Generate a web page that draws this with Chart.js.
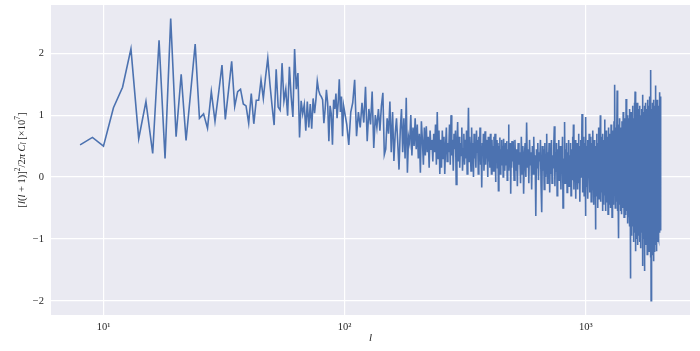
<!DOCTYPE html>
<html>
<head>
<meta charset="utf-8">
<script src="https://cdn.jsdelivr.net/npm/chart.js@4/dist/chart.umd.min.js"></script>
<style>
  html, body { margin: 0; padding: 0; background: #fff; }
  canvas { display: block; }
</style>
</head>
<body>
<canvas id="chart" width="700" height="351"></canvas>
<script>
// power spectrum
// l = 8..99, every multipole
const lowStart = 8;
const lowVals = [
  0.52, 0.64, 0.50, 1.12, 1.45, 2.07, 0.62, 1.22, 0.38, 2.21,
  0.30, 2.56, 0.65, 1.66, 0.59, 1.38, 2.15, 0.95, 1.02, 0.79,
  1.38, 0.90, 1.35, 1.81, 0.93, 1.40, 1.87, 1.14, 1.38, 1.42,
  1.18, 1.15, 0.87, 1.35, 0.86, 1.24, 1.24, 1.57, 1.27, 1.62,
  1.92, 1.50, 1.15, 0.84, 1.74, 1.13, 1.08, 1.84, 1.23, 1.42,
  0.99, 1.78, 1.30, 0.97, 2.07, 1.42, 1.68, 0.64, 1.23, 1.02,
  1.17, 0.75, 1.22, 0.80, 1.18, 0.78, 1.27, 1.03, 1.25, 1.55,
  1.40, 1.33, 1.30, 1.25, 0.87, 1.10, 1.41, 1.20, 0.58, 1.15,
  1.02, 0.52, 1.25, 1.10, 1.35, 0.95, 1.20, 1.58, 1.05, 1.30,
  0.66, 1.15
];
// l = 100..498, every second multipole
const midStart = 100;
const midVals = [
  1.05, 0.85, 0.52, 1.05, 1.20, 1.57, 0.66, 1.05, 0.80, 1.20,
  0.88, 1.46, 0.58, 1.10, 0.85, 1.38, 0.47, 1.00, 0.80, 1.10,
  0.75, 1.15, 1.36, 0.36, 0.45, 0.95, 0.70, 1.22, 0.40, 1.05,
  0.26, 0.70, 0.95, 0.55, 0.12, 0.75, 1.10, 0.40, 0.95, 0.30,
  1.28, 0.07, 0.65, 0.55, 1.00, 0.35, 0.80, 0.50, 0.95, 0.45,
  0.85, 0.30, 0.70, 0.07, 0.90, 0.60, 0.20, 0.80, 0.35, 0.82,
  0.40, 0.65, 0.15, 0.75, 0.45, 0.60, 0.25, 0.70, 0.40, 0.85,
  0.20, 1.05, 0.30, 0.75, 0.05,
  0.60, 0.15, 0.75, 0.30, 0.65, 0.05, 0.50, 0.80, 0.25, 0.55,
  0.40, 0.85, 0.20, 1.00, 0.35, 0.60, 0.10, 0.70, 0.45, 0.75,
  -0.12, 0.50, 0.89, 0.25, 0.65, 0.15, 0.55, 0.35, 0.80, 0.10,
  0.45, 0.70, 0.20, 0.60, 0.30, 0.75, 0.05, 0.50, 1.12, 0.25,
  0.65, 0.40, 0.10, 0.80, 0.35, 0.55, 0.00, 0.70, 0.30, 0.50,
  0.15, 0.75, 0.40, 0.60, 0.05, 0.65, 0.25, 0.80, 0.20, 0.50,
  -0.17, 0.55, 0.35, 0.70, 0.10, 0.45, 0.74, 0.20, 0.60, 0.30,
  0.50, 0.00, 0.65, 0.25, 0.55, 0.15, 0.70, 0.35, 0.05, 0.60,
  0.30, 0.50, 0.10, 0.65, 0.40, 0.70, -0.08, 0.45, 0.25, 0.60,
  0.15, 0.55, -0.22, 0.50, 0.35, 0.64, 0.05, 0.45, 0.20, 0.60,
  0.30, 0.50, 0.00, 0.62, 0.25, 0.40, 0.10, 0.55, 0.35, 0.20,
  0.58, -0.05, 0.45, 0.30, 0.85, 0.10, 0.50, 0.25, 0.55, -0.27,
  0.40, 0.15, 0.58, 0.25, 0.45
];
// l = 500..2048, every fourth multipole (too dense to read one by one)
const highStart = 500;
const highVals = [
  0.50, -0.05, 0.60, 0.10, 0.45, -0.15, 0.55, 0.20, 0.40, -0.10,
  0.65, 0.05, 0.50, -0.27, 0.35, 0.55, 0.00, 0.88, 0.15, 0.45,
  -0.10, 0.60, 0.20, 0.40, -0.20, 0.50, 0.05, 0.65, 0.10, 0.35,
  -0.63, 0.45, 0.15, 0.55, -0.05, 0.40, 0.25, 0.60, -0.15, -0.57,
  0.50, 0.10, 0.45, -0.20, 0.55, 0.00, 0.35, 0.70, -0.10, 0.40,
  0.20, 0.55, -0.25, 0.45, 0.05, 0.60, -0.10, 0.35, 0.15, 0.50,
  0.82, -0.15, 0.40, 0.10, 0.55, -0.30, 0.45, 0.20, 0.60, -0.05,
  0.35, 0.50, -0.20, 0.40, 0.05, 0.65, -0.50, 0.30, 0.15, 0.89,
  -0.10, 0.45, 0.20, 0.55, -0.25, 0.40, 0.00, 0.60, -0.15, 0.35,
  0.10, 0.55, -0.30, 0.45, 0.20, 0.65, -0.05, 0.85, -0.20, 0.40,
  0.05, 0.60, -0.35, 0.45, 0.15, 0.55, -0.20, 0.35, 0.70, -0.10,
  0.50, -0.40, 0.30, 0.60, 0.00, 0.45, 1.02, -0.25, 0.40, 0.10,
  0.65, -0.30, 0.35, 0.55, -0.63, 0.97, -0.15, 0.50, 0.05, 0.60,
  -0.35, 0.45, 0.20, 0.70, -0.25, 0.40, -0.05, 0.65, -0.40, 0.35,
  0.55, -0.20, 0.75, 0.00, 0.45, -0.45, 0.60, 0.10, 0.50, -0.85,
  0.40, -0.30, 0.70, 0.05, 0.55, -0.50, 0.45, -0.10, 0.80, -0.35,
  0.50, 0.15, 1.00, -0.40, 0.35, 0.65, -0.25, 0.55, -0.55, 0.70,
  0.00, 0.45, -0.45, 0.60, 0.93, -0.30, 0.50, -0.55, 0.75, -0.15,
  0.55, -0.40, 0.65, 0.10, -0.60, 0.80, -0.20, 0.50, -0.45, 0.70,
  -0.05, 0.60, -0.50, 0.85, -0.25, 0.45, -0.65, 0.75, 0.05, -0.40,
  0.70, -0.45, 0.90, -0.20, 0.55, 1.49, -0.50, 0.65, -0.35, 0.80,
  -0.40, 0.60, 1.40, -0.55, 0.75, -0.30, 0.85, -0.99, 0.50, -0.45,
  0.95, -0.40, 0.70, -0.55, 0.80, -0.25, 0.60, -0.60, 0.90, -0.45,
  0.65, -0.50, 1.05, -0.35, 0.75, -0.65, 0.55, -0.50, 0.95, -0.60,
  0.70, -0.40, 1.26, -0.55, 0.85, -0.50, 0.60, -0.75, 1.00, -0.45,
  0.75, -0.65, 0.95, -0.50, 1.10, -0.80, 0.65, -1.64, 0.90, -0.60,
  1.05, -0.75, 0.80, -0.95, 0.70, -0.55, 1.15, -0.80, 0.85, -1.05,
  0.95, -0.65, 1.20, -0.90, 0.75, 1.38, -1.20, 0.90, -0.70, 1.05,
  -0.85, 0.80, -1.00, 1.20, -0.75, 0.95, -1.10, 0.85, -0.65, 1.10,
  -0.95, 0.75, -0.80, 1.15, -1.05, 0.90, -0.70, 1.00, -1.15, 0.85,
  -0.90, 1.10, -0.75, 0.95, -1.20, 1.33, -1.44, 0.80, -0.85, 1.05,
  -1.00, 0.90, -1.52, 1.15, -0.80, 0.85, -1.10, 1.20, -0.95, 0.75,
  -1.05, 1.10, -0.85, 0.95, -1.25, 1.00, -0.75, 1.25, -1.10, 0.90,
  -0.90, 1.15, -1.20, 0.85, -1.00, 1.30, -0.80, 1.05, -1.30, 0.95,
  1.73, -2.00, 1.10, -1.05, 0.90, -1.25, 1.20, -0.85, 1.00, -1.15,
  0.95, -1.36, 1.25, -0.90, 1.05, -1.20, 0.85, -1.00, 1.15, -0.80,
  0.90, -1.10, 1.48, -0.95, 1.00, -1.20, 0.80, -0.90, 1.25, -1.05,
  0.95, -0.85, 1.20, -0.96, 1.05, -0.80, 0.90, -1.00, 1.15, -0.75,
  1.00, -0.90, 1.37, -0.85, 1.10, -0.80, 1.30, -0.82
];

const xTicks = [10, 100, 1000];
const xTickLabels = ['10\u00b9', '10\u00b2', '10\u00b3'];
const yTicks = [-2, -1, 0, 1, 2];
const yTickLabels = ['\u22122', '\u22121', '0', '1', '2'];

const serif = "'Liberation Serif', 'DejaVu Serif', serif";
const textColor = '#262626';

const points = [];
[[lowStart, 1, lowVals], [midStart, 2, midVals], [highStart, 4, highVals]].forEach(([start, step, vals]) => {
  vals.forEach((v, i) => points.push({ x: start + i * step, y: v }));
});

const plotBackground = {
  id: 'plotBackground',
  beforeDraw(chart) {
    const { ctx, chartArea: a } = chart;
    ctx.save();
    ctx.fillStyle = '#EAEAF2';
    ctx.fillRect(a.left, a.top, a.right - a.left, a.bottom - a.top);
    ctx.restore();
  }
};

// y label with mixed upright / italic pieces
const yLabelParts = [
  { t: '[', it: false }, { t: 'l', it: true }, { t: '(', it: false }, { t: 'l', it: true },
  { t: ' + 1)]', it: false }, { t: '2', it: false, sup: true }, { t: '/2', it: false },
  { t: '\u03c0', it: true }, { t: ' ', it: false }, { t: 'C', it: true }, { t: 'l', it: true, sub: true },
  { t: ' [\u00d710', it: false }, { t: '7', it: false, sup: true }, { t: ']', it: false }
];

const yLabel = {
  id: 'yLabel',
  afterDraw(chart) {
    const { ctx, chartArea: a } = chart;
    const fontFor = (p) => (p.it ? 'italic ' : '') + ((p.sup || p.sub) ? 7.5 : 10.5) + 'px ' + serif;
    let total = 0;
    yLabelParts.forEach(p => { ctx.font = fontFor(p); total += ctx.measureText(p.t).width; });
    ctx.save();
    ctx.translate(22, (a.top + a.bottom) / 2);
    ctx.rotate(-Math.PI / 2);
    ctx.fillStyle = textColor;
    ctx.textBaseline = 'middle';
    let x = -total / 2;
    yLabelParts.forEach(p => {
      ctx.font = fontFor(p);
      const dy = p.sup ? -4 : (p.sub ? 2.5 : 0);
      ctx.fillText(p.t, x, dy);
      x += ctx.measureText(p.t).width;
    });
    ctx.restore();
  }
};

new Chart(document.getElementById('chart'), {
  type: 'line',
  data: {
    datasets: [{
      data: points,
      borderColor: '#4C72B0',
      borderWidth: 1.6,
      pointRadius: 0,
      tension: 0,
      fill: false
    }]
  },
  options: {
    responsive: false,
    animation: false,
    devicePixelRatio: 1,
    layout: { padding: { left: 0, right: 10, top: 5, bottom: 0 } },
    plugins: {
      legend: { display: false },
      tooltip: { enabled: false }
    },
    scales: {
      x: {
        type: 'logarithmic',
        min: 6.06,
        max: 2702,
        afterBuildTicks: (s) => { s.ticks = xTicks.map(v => ({ value: v })); },
        afterFit: (s) => { s.height = 36; s.paddingLeft = 0; s.paddingRight = 0; },
        grid: { color: '#ffffff', lineWidth: 1.2, drawTicks: false },
        border: { display: false },
        ticks: {
          padding: 6,
          color: textColor,
          font: { family: serif, size: 10.5 },
          maxRotation: 0,
          autoSkip: false,
          callback: (v) => { const i = xTicks.indexOf(v); return i >= 0 ? xTickLabels[i] : ''; }
        },
        title: {
          display: true,
          text: 'l',
          color: textColor,
          font: { family: serif, size: 11, style: 'italic' },
          padding: { top: 0, bottom: 6 }
        }
      },
      y: {
        min: -2.23,
        max: 2.78,
        afterBuildTicks: (s) => { s.ticks = yTicks.map(v => ({ value: v })); },
        afterFit: (s) => { s.width = 51; s.paddingTop = 0; s.paddingBottom = 0; },
        grid: { color: '#ffffff', lineWidth: 1.2, drawTicks: false },
        border: { display: false },
        ticks: {
          padding: 7,
          color: textColor,
          font: { family: serif, size: 10.5 },
          callback: (v) => { const i = yTicks.indexOf(v); return i >= 0 ? yTickLabels[i] : ''; }
        },
        title: { display: false }
      }
    }
  },
  plugins: [plotBackground, yLabel]
});
</script>
</body>
</html>
